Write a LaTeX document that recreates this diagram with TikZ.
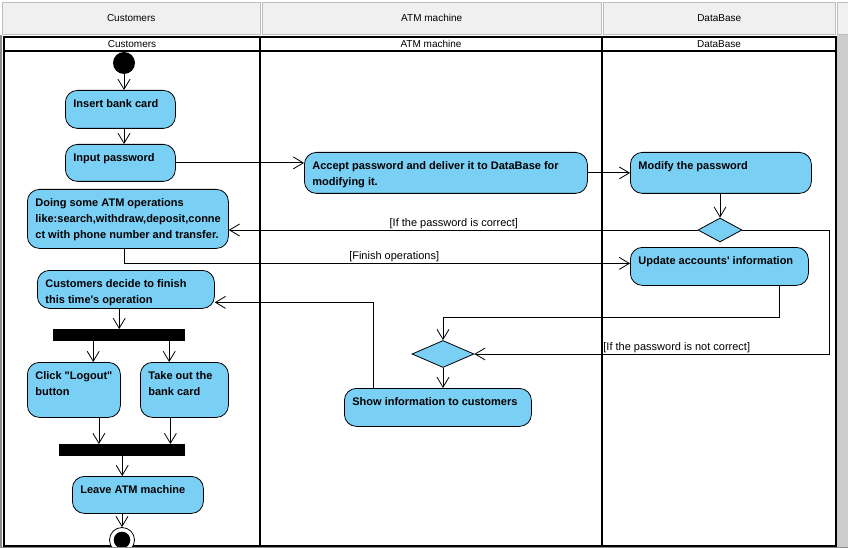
\documentclass[tikz,border=0pt]{standalone}
\usepackage{fontspec}
\setmainfont{Liberation Sans}
\usetikzlibrary{shapes.geometric,arrows.meta,positioning}
\definecolor{actblue}{RGB}{122,207,245}
\definecolor{hdrgray}{RGB}{240,240,240}
\definecolor{hdrline}{RGB}{190,190,190}
\definecolor{framegray}{RGB}{140,140,140}
\definecolor{stripgray}{RGB}{205,205,205}
\hyphenpenalty=10000
\newcommand{\acttext}[3]{\parbox[c][#2pt][t]{#1pt}{\raggedright\rule{0pt}{17.5pt}#3}}

\begin{document}
\begin{tikzpicture}[
    x=1pt, y=-1pt,
    act/.style={rectangle, draw, fill=actblue, rounded corners=12pt, line width=0.8pt, anchor=north west, inner xsep=8pt, inner ysep=0pt, font=\fontsize{11}{16}\selectfont\bfseries},
    bar/.style={rectangle, fill=black, anchor=north west, inner sep=0pt},
    decision/.style={diamond, draw, fill=actblue, line width=0.8pt, inner sep=0pt},
    initnode/.style={circle, fill=black, minimum size=22pt, inner sep=0pt},
    finalnode/.style={circle, draw, fill=white, line width=0.8pt, minimum size=25pt, inner sep=0pt, path picture={\fill[black] (path picture bounding box.center) circle (8.3pt);}},
    guard/.style={font=\fontsize{11}{13}\selectfont, inner sep=1pt},
    flow/.style={-{Straight Barb[length=10pt,width=12pt]}, line width=0.8pt},
    hdrcell/.style={rectangle, draw=hdrline, fill=hdrgray, anchor=north west, inner sep=0pt, font=\fontsize{10}{12}\selectfont},
    lanetitle/.style={font=\fontsize{10}{12}\selectfont, inner sep=0pt},
    lane/.style={line width=2pt}
]
\useasboundingbox (0,0) rectangle (848,548);

% header bar
\node[hdrcell, minimum width=258pt, minimum height=32pt] (hcust) at (2,2) {Customers};
\node[hdrcell, minimum width=339pt, minimum height=32pt] (hatm) at (262,2) {ATM machine};
\node[hdrcell, minimum width=232pt, minimum height=32pt] (hdb) at (603,2) {DataBase};
\node[hdrcell, minimum width=12pt, minimum height=32pt] (hrest) at (837,2) {};

% swimlanes
\fill[stripgray] (837,35) rectangle (848,548);
\draw[lane] (4,37) rectangle (836,546);
\draw[lane] (4,51) -- (836,51);
\draw[lane] (260,37) -- (260,546);
\draw[lane] (602,37) -- (602,546);
\node[lanetitle] (tcust) at (132,44) {Customers};
\node[lanetitle] (tatm) at (431,44) {ATM machine};
\node[lanetitle] (tdb) at (719,44) {DataBase};

% Customers lane
\node[initnode] (start) at (124,63) {};
\node[act] (insert) at (65,90) {\acttext{94}{38}{Insert bank card}};
\node[act] (input) at (65,144) {\acttext{94}{37}{Input password}};
\node[act] (doing) at (27,189) {\acttext{185}{59}{Doing some ATM operations\\like:search,withdraw,deposit,conne\\ct with phone number and transfer.}};
\node[act] (decide) at (37,270) {\acttext{161}{38}{Customers decide to finish\\this time\textquotesingle s operation}};
\node[bar, minimum width=132pt, minimum height=12pt] (fork) at (53,329) {};
\node[act] (logout) at (27,362) {\acttext{77}{55}{Click~\textquotedbl Logout\textquotedbl\\button}};
\node[act] (takeout) at (140,362) {\acttext{72}{55}{Take out the\\bank card}};
\node[bar, minimum width=126pt, minimum height=12pt] (join) at (59,444) {};
\node[act] (leave) at (72,476) {\acttext{115}{37}{Leave ATM machine}};
\node[finalnode] (finish) at (122,540) {};

% ATM machine and DataBase lanes
\node[act] (accept) at (304,152) {\acttext{267}{41}{Accept password and deliver it to DataBase for\\modifying it.}};
\node[act] (modify) at (630,152) {\acttext{165}{41}{Modify the password}};
\node[decision, minimum width=44pt, minimum height=24pt] (check) at (720,230) {};
\node[act] (update) at (630,247) {\acttext{162}{38}{Update accounts\textquotesingle\ information}};
\node[decision, minimum width=62pt, minimum height=27pt] (merge) at (443,354) {};
\node[act] (show) at (344,388) {\acttext{171}{38}{Show information to customers}};

% flows
\draw[flow] (start) -- (start |- insert.north);
\draw[flow] (insert.south -| start) -- (input.north -| start);
\draw[flow] (input.east) -- (input.east -| accept.west);
\draw[flow] (accept) -- (modify);
\draw[flow] (modify.south -| check) -- (check.north);
\draw[flow] (check.west) -- node[guard, above, pos=0.52] {[If the password is correct]} (check.west -| doing.east);
\draw[flow] (check.east) -- ++(87,0) |- node[guard, above, pos=0.715] {[If the password is not correct]} (merge.east);
\draw[flow] (doing.south -| start) |- node[guard, above, pos=0.767] {[Finish operations]} ([yshift=3pt]update.west);
\draw[flow] ([xshift=-29pt]update.south east) -- ++(0,32) -| (merge.north);
\draw[flow] (merge.south) -- (merge.south |- show.north);
\draw[flow] ([xshift=-65pt]show.north) |- ([yshift=-13pt]decide.east);
\draw[flow] (decide.south -| fork.north) -- (fork.north);
\draw[flow] ([xshift=-26pt]fork.south) -- ([xshift=-26pt]fork.south |- logout.north);
\draw[flow] ([xshift=50pt]fork.south) -- ([xshift=50pt]fork.south |- takeout.north);
\draw[flow] ([xshift=25pt]logout.south) -- ([xshift=25pt]logout.south |- join.north);
\draw[flow] ([xshift=-14pt]takeout.south) -- ([xshift=-14pt]takeout.south |- join.north);
\draw[flow] (join.south) -- (join.south |- leave.north);
\draw[flow] (leave.south -| finish) -- (finish);

% outer frame
\draw[framegray, line width=1.5pt] (0.75,35) -- (0.75,547.25) -- (848,547.25);
\end{tikzpicture}
\end{document}
